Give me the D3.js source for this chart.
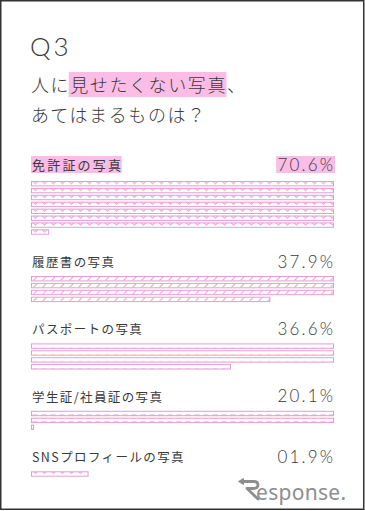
<!DOCTYPE html>
<html>
<head>
<meta charset="utf-8">
<script src="https://cdn.jsdelivr.net/npm/d3@7"></script>
<style>
  html, body { margin: 0; padding: 0; background: #fff; }
  svg { display: block; }
</style>
</head>
<body>
<div id="chart"></div>
<script>
'use strict';

// values
const labels = ['免許証の写真', '履歴書の写真', 'パスポートの写真', '学生証/社員証の写真', 'SNSプロフィールの写真'];
const values = [70.6, 37.9, 36.6, 20.1, 1.9];
const valueLabels = ['70.6%', '37.9%', '36.6%', '20.1%', '01.9%'];
const patternKinds = ['heart', 'slash', 'dash', 'box', 'heart'];
const rowUnit = 10; // one strip = 10%

const W = 365, H = 511;
const PINK = '#fbbde5';
const LINE = '#e49cd5';
const INK = '#3a3a3a';
const JP = '"Noto Sans CJK JP", "Noto Sans", sans-serif';
const NUM = 'Lato, "Noto Sans", sans-serif';

const svg = d3.select('#chart').append('svg')
  .attr('width', W)
  .attr('height', H);

svg.append('rect')
  .attr('x', 0.75).attr('y', 0.75)
  .attr('width', W - 2).attr('height', H - 2.5)
  .attr('fill', '#fff')
  .attr('stroke', '#333')
  .attr('stroke-width', 1.5);

// strip patterns
const defs = svg.append('defs');
function addPattern(kind) {
  const p = defs.append('pattern')
    .attr('id', 'pat-' + kind)
    .attr('patternUnits', 'userSpaceOnUse')
    .attr('x', 31).attr('y', 0)
    .attr('width', 9).attr('height', 6.9);
  const g = p.append('g')
    .attr('fill', 'none')
    .attr('stroke', LINE)
    .attr('stroke-width', 1);
  if (kind === 'heart') {
    g.append('path').attr('d', 'M1.5,1.3 L4.5,4.2 L7.5,1.3');
  } else if (kind === 'slash') {
    g.append('path').attr('d', 'M2.5,4.4 L6,1');
  } else if (kind === 'dash') {
    g.append('path').attr('d', 'M2.5,3.3 L5.5,3.3');
  } else if (kind === 'box') {
    g.append('rect').attr('x', 2).attr('y', 1).attr('width', 4).attr('height', 2.8);
  }
}
Array.from(new Set(patternKinds)).forEach(addPattern);

// title
svg.append('text')
  .attr('x', 30).attr('y', 55.5)
  .attr('font-family', NUM)
  .attr('font-weight', 300)
  .attr('font-size', 26)
  .attr('letter-spacing', 3)
  .attr('fill', INK)
  .text('Q3');

// question, with highlighted part
const qStyle = sel => sel
  .attr('font-family', JP)
  .attr('font-weight', 300)
  .attr('font-size', 18)
  .attr('letter-spacing', 1.6)
  .attr('fill', INK);

const q1 = ['人に', '見せたくない写真', '、'];
let qx = 31;
const qHi = svg.append('g');
q1.forEach((part, i) => {
  const t = svg.append('text').attr('x', qx).attr('y', 92).call(qStyle).text(part);
  const w = t.node().getComputedTextLength();
  if (i === 1) {
    qHi.append('rect')
      .attr('x', qx - 1.5).attr('y', 72)
      .attr('width', w + 1).attr('height', 25)
      .attr('fill', PINK);
  }
  qx += w;
});
svg.append('text').attr('x', 31).attr('y', 122).call(qStyle).text('あてはまるものは？');

// bars
const x = d3.scaleLinear().domain([0, rowUnit]).range([0, 303]);
const x0 = 31, right = 333;
const pitch = 6.9, stripH = 4.4;

let y = 170;
labels.forEach((label, i) => {
  const v = values[i];
  const first = i === 0;
  const g = svg.append('g');

  const lt = g.append('text')
    .attr('x', 32).attr('y', y)
    .attr('font-family', JP)
    .attr('font-size', first ? 13 : 12.5)
    .attr('letter-spacing', first ? 2.2 : 1.4)
    .attr('fill', INK)
    .text(label);

  const ls = 2.2;
  const vt = g.append('text')
    .attr('x', right + ls).attr('y', y + 0.5)
    .attr('text-anchor', 'end')
    .attr('font-family', NUM)
    .attr('font-weight', 300)
    .attr('font-size', 17)
    .attr('letter-spacing', ls)
    .attr('fill', INK)
    .text(valueLabels[i]);

  if (first) {
    const lw = lt.node().getComputedTextLength();
    g.insert('rect', 'text')
      .attr('x', 31).attr('y', y - 14)
      .attr('width', lw - 0.5).attr('height', 17)
      .attr('fill', PINK);
    const vw = vt.node().getComputedTextLength();
    g.insert('rect', 'text')
      .attr('x', right + 1 - vw).attr('y', y - 14)
      .attr('width', vw + 1).attr('height', 17)
      .attr('fill', PINK);
  }

  const full = Math.floor(v / rowUnit);
  const rest = v - full * rowUnit;
  const rows = d3.range(full).map(() => rowUnit);
  if (rest > 0) rows.push(rest);

  const top = y + (first ? 11 : 9);
  g.selectAll('rect.strip')
    .data(rows)
    .join('rect')
    .attr('class', 'strip')
    .attr('x', x0 + 0.5)
    .attr('y', (d, j) => top + j * pitch + 0.5)
    .attr('width', d => Math.max(1.5, x(d) - 1))
    .attr('height', stripH)
    .attr('fill', 'url(#pat-' + patternKinds[i] + ')')
    .attr('stroke', LINE)
    .attr('stroke-width', 1);

  const lastTop = top + (rows.length - 1) * pitch;
  y = lastTop + 37.7;
});

// logo
const logo = svg.append('g').attr('fill', 'none').attr('stroke', '#8e8e8e');
logo.append('path')
  .attr('d', 'M243,481.5 L254,481.5 Q258,481.5 258,485 Q258,488.5 253,488.5 L247,488.5 L258,499')
  .attr('stroke-width', 2.8)
  .attr('stroke-linejoin', 'round')
  .attr('stroke-linecap', 'round');
logo.append('path')
  .attr('d', 'M238.5,481.5 L243.5,478.5 L243.5,484.5 Z')
  .attr('fill', '#8e8e8e')
  .attr('stroke-width', 1);
svg.append('text')
  .attr('x', 256).attr('y', 500)
  .attr('font-family', '"Noto Sans", sans-serif')
  .attr('font-size', 21)
  .attr('letter-spacing', 0.3)
  .attr('fill', '#8e8e8e')
  .text('esponse.');
</script>
</body>
</html>
